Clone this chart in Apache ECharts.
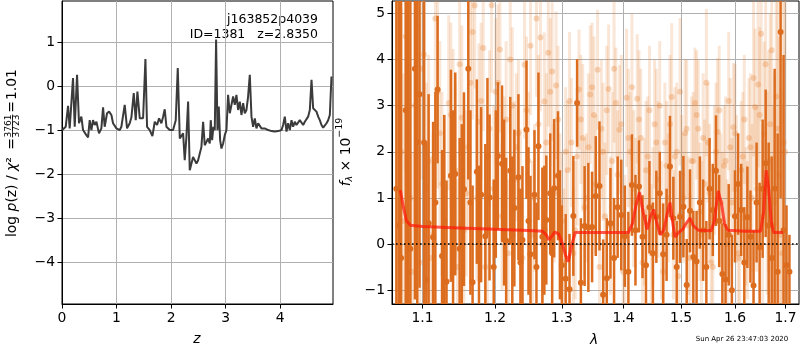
<!DOCTYPE html>
<html>
<head>
<meta charset="utf-8">
<script src="https://cdn.jsdelivr.net/npm/echarts@6/dist/echarts.min.js"></script>
<style>
  html, body { margin: 0; padding: 0; background: #fff; }
  #chart { width: 800px; height: 350px; }
</style>
</head>
<body>
<div id="chart"></div>
<script>
// ---- redshift probability: log p(z) over the fitted redshift grid ----
const zGrid = [0.0, 0.019, 0.068, 0.111, 0.141, 0.202, 0.233, 0.276, 0.312, 0.355, 0.386, 0.447, 0.478, 0.508, 0.539, 0.569, 0.600, 0.631, 0.679, 0.722,
  0.753, 0.783, 0.826, 0.863, 0.906, 0.936, 0.998, 1.059, 1.089, 1.150, 1.193, 1.242, 1.273, 1.316, 1.352, 1.383, 1.426, 1.456, 1.487, 1.530,
  1.560, 1.609, 1.658, 1.701, 1.744, 1.780, 1.823, 1.854, 1.884, 1.915, 1.976, 2.037, 2.086, 2.123, 2.160, 2.190, 2.221, 2.251, 2.282, 2.313,
  2.343, 2.404, 2.466, 2.496, 2.557, 2.588, 2.618, 2.649, 2.679, 2.710, 2.728, 2.753, 2.777, 2.802, 2.826, 2.851, 2.875, 2.900, 2.924, 2.955,
  2.985, 3.016, 3.046, 3.077, 3.108, 3.138, 3.169, 3.199, 3.230, 3.261, 3.291, 3.322, 3.352, 3.383, 3.413, 3.444, 3.475, 3.505, 3.536, 3.566,
  3.597, 3.658, 3.719, 3.780, 3.842, 3.903, 3.964, 4.025, 4.055, 4.086, 4.117, 4.147, 4.178, 4.209, 4.239, 4.270, 4.300, 4.331, 4.361, 4.392,
  4.423, 4.453, 4.484, 4.514, 4.545, 4.576, 4.606, 4.637, 4.667, 4.698, 4.728, 4.759, 4.790, 4.820, 4.851, 4.881, 4.912, 4.942];
const logPz = [-1.0, -0.995, -0.92, -0.446, -0.957, 0.187, -0.92, 0.263, -0.84, -0.69, -0.995, -1.11, -1.16, -0.77, -0.995, -0.77, -0.88, -0.805, -1.07, -0.957,
  -0.476, -0.92, -0.613, -0.576, -0.652, -0.84, -0.957, -0.995, -0.92, -0.423, -0.957, -0.84, -0.705, -0.156, -0.77, -0.118, -0.728, -0.77, -0.728, 0.622,
  -0.92, -0.995, -1.13, -0.805, -0.88, -0.728, -0.84, -0.69, -0.522, -0.92, -0.995, -0.995, -0.77, 0.416, -1.186, -1.224, -1.07, -1.68, -1.149, -0.347,
  -1.91, -1.606, -1.758, -1.68, -1.377, -0.805, -1.339, -1.263, -1.186, -1.30, -0.77, -1.224, -0.92, -0.995, 1.064, -0.995, -0.462, -1.224, -1.415, -1.30,
  -1.11, -0.995, -0.195, -0.613, -0.613, -0.233, -0.423, -0.195, -0.538, -0.347, -0.652, -0.385, -0.613, -0.538, -0.233, 0.263, -0.69, -0.92, -0.728, -0.957,
  -0.84, -0.957, -0.957, -0.995, -1.018, -1.03, -1.018, -0.995, -0.88, -0.69, -1.03, -0.84, -0.995, -0.77, -0.92, -0.805, -0.88, -0.92, -0.77, -0.728,
  -0.88, -0.805, -0.77, -0.69, -0.538, 0.149, -0.50, -0.538, -0.576, -0.69, -0.77, -0.88, -0.94, -0.92, -0.84, -0.77, -0.652, 0.224];

// ---- 1D spectrum, strong orange set ----
const darkWave = [1.066, 1.072, 1.078, 1.084, 1.090, 1.096, 1.102, 1.108, 1.114, 1.120, 1.126, 1.132, 1.138, 1.144, 1.150, 1.156, 1.162, 1.168, 1.174, 1.180,
  1.186, 1.192, 1.198, 1.204, 1.210, 1.216, 1.222, 1.228, 1.234, 1.240, 1.246, 1.252, 1.258, 1.264, 1.270, 1.276, 1.282, 1.288, 1.294, 1.300,
  1.306, 1.312, 1.318, 1.324, 1.330, 1.336, 1.342, 1.348, 1.354, 1.360, 1.366, 1.372, 1.378, 1.384, 1.390, 1.396, 1.402, 1.408, 1.414, 1.420,
  1.426, 1.432, 1.438, 1.444, 1.450, 1.456, 1.462, 1.468, 1.474, 1.480, 1.486, 1.492, 1.498, 1.504, 1.510, 1.516, 1.522, 1.528, 1.534, 1.540,
  1.546, 1.552, 1.558, 1.564, 1.570, 1.576, 1.582, 1.588, 1.594, 1.600, 1.606, 1.612, 1.618, 1.624, 1.630, 1.636, 1.642, 1.648, 1.654, 1.660,
  1.666, 1.672, 1.678, 1.684, 1.690, 1.696, 1.702, 1.708];
const darkFlux = [1.2, -0.3, 2.9, -0.1, 3.8, 3.25, 2.2, 0.45, 0.15, 3.35, -0.26, -0.82, 1.48, 1.52, -0.1, 1.19, 3.8, -0.83, 1.57, 1.07,
  0.17, 1.01, -0.5, 1.91, 1.74, 0.07, 1.59, 0.78, 1.45, 0.09, 2.48, -0.22, 1.07, 2.12, 0.16, 0.52, 1.1, 1.21, 1.48, -0.46,
  -0.75, -0.98, 0.61, 3.06, -0.84, 0.39, 0.36, 0.37, 1.04, 1.26, -1.1, -0.74, 0.45, -0.3, 0.8, 0.63, 0.17, -0.6, 1.28, 0.3,
  1.25, 0.16, -0.46, 0.8, -0.2, 0.59, 1.1, -0.22, 0.2, 1.68, 0.56, -0.5, 0.59, 0.81, -0.89, 0.72, -0.28, -0.38, 0.9, 0.3,
  -0.5, 1.2, 0.74, 1.59, 0.5, -0.65, -0.77, 0.2, -1.0, 0.6, 1.3, 0.74, -0.4, 0.58, 0.16, -0.9, 0.9, -0.07, 1.2, 1.75,
  0.4, -0.3, 1.2, -0.6, 4.6, 0.3, -0.46, -0.6];
const darkErr = [8.0, 7.5, 6.5, 6.0, 5.0, 4.2, 3.5, 2.8, 2.5, 1.6, 2.3, 2.2, 2.3, 2.2, 2.4, 2.1, 2.4, 2.1, 2.0, 1.9,
  2.0, 1.8, 1.9, 1.6, 1.7, 1.8, 1.6, 1.7, 1.8, 1.6, 1.5, 1.7, 1.4, 1.6, 1.5, 1.4, 1.3, 1.5, 1.4, 1.3,
  1.4, 1.2, 1.3, 0.95, 1.4, 1.3, 1.4, 1.2, 1.3, 1.4, 1.2, 1.3, 1.2, 1.3, 1.1, 1.2, 1.1, 1.3, 1.1, 1.2,
  1.0, 0.9, 1.1, 1.0, 1.1, 1.0, 0.9, 1.1, 1.0, 1.1, 0.9, 1.0, 1.0, 1.1, 1.0, 0.9, 1.0, 1.1, 1.0, 1.1,
  1.0, 1.1, 1.0, 1.2, 1.0, 1.1, 1.2, 1.1, 1.2, 1.0, 1.1, 1.0, 1.2, 1.1, 1.0, 1.2, 1.3, 1.4, 1.5, 1.6,
  1.8, 2.2, 2.6, 3.0, 3.6, 3.8, 1.3, 0.8];

// ---- strong orange set: extra samples on the blue side ----
const darkWaveBlue = [1.069, 1.081, 1.093, 1.105, 1.117, 1.129, 1.141, 1.153, 1.165, 1.177, 1.189, 1.201, 1.213, 1.225, 1.237, 1.249, 1.261, 1.273, 1.285, 1.297];
const darkFluxBlue = [0.4, -0.6, 2.21, -0.78, 0.9, 0.5, 0.7, 0.4, 0.9, -0.3, 1.9, 1.3, 0.9, 0.2, -0.4, 0.5, -0.5, 0.3, -0.2, 0.2];
const darkErrBlue = [7.8, 6.2, 4.6, 3.0, 2.4, 2.3, 2.2, 2.2, 2.0, 2.0, 1.7, 1.6, 1.8, 1.7, 1.6, 1.6, 1.4, 1.4, 1.4, 1.4];

// ---- 1D spectrum, faint orange set: even samples ----
const lightWave = [1.069, 1.075, 1.081, 1.087, 1.093, 1.099, 1.105, 1.111, 1.117, 1.123, 1.129, 1.135, 1.141, 1.147, 1.153, 1.159, 1.165, 1.171, 1.177, 1.183,
  1.189, 1.195, 1.201, 1.207, 1.213, 1.219, 1.225, 1.231, 1.237, 1.243, 1.249, 1.255, 1.261, 1.267, 1.273, 1.279, 1.285, 1.291, 1.297, 1.303,
  1.309, 1.315, 1.321, 1.327, 1.333, 1.339, 1.345, 1.351, 1.357, 1.363, 1.369, 1.375, 1.381, 1.387, 1.393, 1.399, 1.405, 1.411, 1.417, 1.423,
  1.429, 1.435, 1.441, 1.447, 1.453, 1.459, 1.465, 1.471, 1.477, 1.483, 1.489, 1.495, 1.501, 1.507, 1.513, 1.519, 1.525, 1.531, 1.537, 1.543,
  1.549, 1.555, 1.561, 1.567, 1.573, 1.579, 1.585, 1.591, 1.597, 1.603, 1.609, 1.615, 1.621, 1.627, 1.633, 1.639, 1.645, 1.651, 1.657, 1.663,
  1.669, 1.675, 1.681, 1.687, 1.693, 1.699];
const lightFlux = [4.1, 0.5, 2.4, -0.6, 4.74, 3.8, 1.2, -0.3, 4.89, 2.4, 0.7, 3.06, 2.23, -0.5, 2.74, 1.1, 3.5, 5.17, 2.65, 4.25,
  0.4, 5.18, 3.3, 4.22, 1.5, -0.2, 3.0, 2.1, 0.8, 3.89, 1.8, 0.2, 4.89, 4.48, 3.09, 4.15, 3.74, 3.44, 0.9, -0.4,
  1.6, 2.2, 0.3, 3.35, 2.3, 1.0, 3.24, 2.8, 3.78, 2.5, 0.6, 3.36, 1.8, 3.06, 2.48, -0.6, 3.17, 2.0, 1.2, 3.15,
  2.3, 0.7, 1.9, -0.2, 2.6, 1.4, 0.3, 2.2, 1.0, 3.19, 1.9, -0.7, 1.5, 2.4, 0.4, 1.8, 3.06, 2.5, 0.2, 1.3,
  2.2, -0.4, 1.6, 2.43, 0.9, 1.7, 0.0, 2.1, 2.53, 1.2, -0.3, 1.9, 0.6, 2.3, 1.0, 2.97, 3.46, 4.56, 2.39, 1.1,
  2.6, 0.4, 3.2, 1.5, -0.2, 2.0];
const lightErr = [3.0, 3.2, 2.8, 2.6, 2.5, 2.4, 2.3, 2.2, 2.2, 2.0, 2.1, 1.9, 2.0, 1.9, 2.0, 1.8, 1.9, 1.8, 1.7, 1.8,
  1.7, 1.9, 1.6, 1.8, 1.7, 1.6, 1.7, 1.6, 1.7, 1.6, 1.5, 1.6, 1.7, 1.6, 1.5, 1.6, 1.5, 1.6, 1.5, 1.6,
  1.5, 1.4, 1.5, 1.3, 1.6, 1.4, 1.5, 1.7, 1.3, 1.5, 1.6, 1.4, 1.5, 1.2, 1.4, 1.6, 1.5, 1.3, 1.7, 1.4,
  1.5, 1.6, 1.3, 1.5, 1.4, 1.7, 1.5, 1.3, 1.4, 1.6, 1.5, 1.4, 1.3, 1.6, 1.5, 1.4, 1.2, 1.5, 1.6, 1.4,
  1.3, 1.5, 1.4, 1.6, 1.5, 1.3, 1.4, 1.5, 1.4, 1.6, 1.5, 1.4, 1.5, 1.3, 1.6, 1.7, 1.8, 1.9, 2.0, 2.2,
  2.4, 2.6, 2.8, 3.0, 3.2, 3.4];

// ---- faint orange set: odd samples ----
const lightWaveOdd = [1.072, 1.078, 1.084, 1.090, 1.096, 1.102, 1.108, 1.114, 1.120, 1.126, 1.132, 1.138, 1.144, 1.150, 1.156, 1.162, 1.168, 1.174, 1.180, 1.186,
  1.192, 1.198, 1.204, 1.210, 1.216, 1.222, 1.228, 1.234, 1.240, 1.246, 1.252, 1.258, 1.264, 1.270, 1.276, 1.282, 1.288, 1.294, 1.300, 1.306,
  1.312, 1.318, 1.324, 1.330, 1.336, 1.342, 1.348, 1.354, 1.360, 1.366, 1.372, 1.378, 1.384, 1.390, 1.396, 1.402, 1.408, 1.414, 1.420, 1.426,
  1.432, 1.438, 1.444, 1.450, 1.456, 1.462, 1.468, 1.474, 1.480, 1.486, 1.492, 1.498, 1.504, 1.510, 1.516, 1.522, 1.528, 1.534, 1.540, 1.546,
  1.552, 1.558, 1.564, 1.570, 1.576, 1.582, 1.588, 1.594, 1.600, 1.606, 1.612, 1.618, 1.624, 1.630, 1.636, 1.642, 1.648, 1.654, 1.660, 1.666,
  1.672, 1.678, 1.684, 1.690, 1.696];
const lightFluxOdd = [2.0, 4.5, 1.0, 3.0, -0.4, 4.11, 1.8, 0.2, 3.3, 1.3, -0.8, 2.8, 1.6, 3.9, 0.3, 2.1, 4.6, 1.0, 3.1, -0.5,
  2.5, 1.2, 3.5, 0.6, 2.7, 4.0, 1.4, 2.4, -0.3, 2.9, 4.3, 1.0, 2.6, 0.0, 2.2, 3.3, 1.1, 2.7, 0.5, 2.0,
  3.1, -0.2, 1.9, 2.7, 0.8, 2.1, 3.4, 1.3, -0.5, 2.0, 2.9, 0.4, 3.8, 1.5, 2.6, 0.1, 2.3, 3.4, 0.9, 2.7,
  -0.4, 1.6, 2.9, 0.6, 2.2, 3.0, -0.6, 1.7, 2.6, 0.2, 2.0, 3.3, 1.0, 2.5, -0.3, 1.8, 2.8, 0.7, 2.3, 3.5,
  1.1, -0.5, 2.0, 2.9, 0.5, 1.8, 3.1, 0.9, 2.4, -0.2, 1.6, 2.7, 0.3, 2.1, 3.6, 1.2, 2.8, 0.6, 3.9, 1.8,
  4.2, 0.9, 2.5, 0.2, 2.2];
const lightErrOdd = [3.1, 2.9, 2.7, 2.6, 2.5, 2.3, 2.3, 2.2, 2.1, 2.0, 2.1, 2.0, 1.9, 2.0, 1.9, 1.8, 1.9, 1.8, 1.7, 1.8,
  1.7, 1.8, 1.7, 1.6, 1.7, 1.6, 1.7, 1.6, 1.5, 1.6, 1.5, 1.6, 1.5, 1.6, 1.5, 1.6, 1.5, 1.6, 1.5, 1.4,
  1.5, 1.4, 1.5, 1.4, 1.5, 1.6, 1.4, 1.5, 1.4, 1.5, 1.4, 1.5, 1.6, 1.4, 1.5, 1.4, 1.5, 1.6, 1.4, 1.5,
  1.4, 1.5, 1.4, 1.5, 1.6, 1.4, 1.5, 1.4, 1.5, 1.4, 1.5, 1.6, 1.4, 1.5, 1.4, 1.5, 1.4, 1.5, 1.4, 1.6,
  1.5, 1.4, 1.5, 1.4, 1.5, 1.4, 1.5, 1.4, 1.5, 1.4, 1.5, 1.4, 1.5, 1.6, 1.7, 1.8, 1.9, 2.0, 2.2, 2.4,
  2.6, 2.8, 3.0, 3.2, 3.4];

// ---- best-fit model at z = 2.835 ----
const modelWave = [1.071, 1.075, 1.079, 1.084, 1.100, 1.150, 1.200, 1.258, 1.270, 1.276, 1.280, 1.284, 1.289, 1.295, 1.301, 1.306, 1.310, 1.315, 1.321, 1.350,
  1.408, 1.415, 1.421, 1.427, 1.433, 1.440, 1.446, 1.451, 1.457, 1.463, 1.469, 1.475, 1.480, 1.485, 1.489, 1.495, 1.503, 1.509, 1.516, 1.522,
  1.531, 1.555, 1.561, 1.568, 1.574, 1.580, 1.586, 1.620, 1.650, 1.656, 1.661, 1.666, 1.671, 1.676, 1.695];
const modelFlux = [1.17, 0.8, 0.5, 0.41, 0.38, 0.35, 0.32, 0.29, 0.28, 0.2, 0.09, 0.16, 0.26, 0.22, 0.0, -0.25, -0.38, -0.05, 0.25, 0.25,
  0.25, 0.45, 0.85, 1.12, 0.7, 0.32, 0.6, 0.75, 0.45, 0.2, 0.3, 0.65, 0.9, 0.45, 0.15, 0.25, 0.32, 0.45, 0.56, 0.4,
  0.3, 0.29, 0.5, 1.15, 0.9, 0.45, 0.3, 0.28, 0.28, 0.7, 1.6, 1.2, 0.5, 0.25, 0.25];

// ---- tick positions ----
const zTicks = [0, 1, 2, 3, 4];
const pzTicks = [-4, -3, -2, -1, 0, 1];
const waveTicks = [1.1, 1.2, 1.3, 1.4, 1.5, 1.6, 1.7];
const fluxTicks = [-1, 0, 1, 2, 3, 4, 5];

const FONT = '"DejaVu Sans", sans-serif';
const minusFmt = v => String(v).replace('-', '\u2212');

function zip3(a, b, c) {
  const n = Math.min(a.length, b.length, c.length);
  const out = [];
  for (let i = 0; i < n; i++) out.push([a[i], b[i], c[i]]);
  return out;
}
function zip2(a, b) {
  const n = Math.min(a.length, b.length);
  const out = [];
  for (let i = 0; i < n; i++) out.push([a[i], b[i]]);
  return out;
}
const byWave = (p, q) => p[0] - q[0];

// vertical error bar with a round marker, clipped to the plot area
function errorBar(barColor, dotColor, barWidth, dotR) {
  return function (params, api) {
    const x = api.value(0), y = api.value(1), e = api.value(2);
    const cs = params.coordSys;
    const c = api.coord([x, y]);
    const hi = api.coord([x, y + e]);
    const lo = api.coord([x, y - e]);
    const top = Math.max(hi[1], cs.y);
    const bot = Math.min(lo[1], cs.y + cs.height);
    const children = [];
    if (bot > top) {
      children.push({ type: 'line', shape: { x1: c[0], y1: top, x2: c[0], y2: bot },
        style: { stroke: barColor, lineWidth: barWidth } });
    }
    if (c[1] >= cs.y && c[1] <= cs.y + cs.height) {
      children.push({ type: 'circle', shape: { cx: c[0], cy: c[1], r: dotR },
        style: { fill: dotColor } });
    }
    return { type: 'group', children: children };
  };
}

function axisCommon(ticks, fmt) {
  return {
    axisLine: { show: true, onZero: false, lineStyle: { color: '#000', width: 1 } },
    axisTick: { show: true, inside: false, length: 4.5, customValues: ticks, lineStyle: { color: '#000', width: 1 } },
    axisLabel: { customValues: ticks, formatter: fmt, margin: 7, fontSize: 13.9, color: '#000', fontFamily: FONT },
    splitLine: { show: true, lineStyle: { color: '#b0b0b0', width: 1 } }
  };
}

const lightData = zip3(lightWave, lightFlux, lightErr).concat(zip3(lightWaveOdd, lightFluxOdd, lightErrOdd)).sort(byWave);
const darkData = zip3(darkWave, darkFlux, darkErr).concat(zip3(darkWaveBlue, darkFluxBlue, darkErrBlue)).sort(byWave);

const chart = echarts.init(document.getElementById('chart'), null, { renderer: 'canvas' });

const option = {
  animation: false,
  backgroundColor: '#fff',
  textStyle: { fontFamily: FONT },
  grid: [
    { left: 62, top: 1, width: 271, height: 303, show: true, borderColor: '#000', borderWidth: 1, containLabel: false },
    { left: 392, top: 1, width: 407, height: 303, show: true, borderColor: '#000', borderWidth: 1, containLabel: false }
  ],
  xAxis: [
    Object.assign({ gridIndex: 0, type: 'value', min: 0, max: 4.97 }, axisCommon(zTicks, minusFmt)),
    Object.assign({ gridIndex: 1, type: 'log', logBase: 10, min: 1.0604, max: 1.7277 }, axisCommon(waveTicks, v => Number(v).toFixed(1)))
  ],
  yAxis: [
    Object.assign({ gridIndex: 0, type: 'value', min: -4.95, max: 1.94 }, axisCommon(pzTicks, minusFmt)),
    Object.assign({ gridIndex: 1, type: 'value', min: -1.3, max: 5.27 }, axisCommon(fluxTicks, minusFmt))
  ],
  series: [
    {
      name: 'log p(z)', type: 'line', xAxisIndex: 0, yAxisIndex: 0,
      data: zip2(zGrid, logPz), showSymbol: false, symbol: 'none',
      lineStyle: { color: '#3b3b3b', width: 2 }, clip: true, z: 3
    },
    {
      name: 'spectrum B', type: 'custom', xAxisIndex: 1, yAxisIndex: 1,
      data: lightData,
      encode: { x: 0, y: 1 },
      renderItem: errorBar('rgba(232,128,50,0.2)', 'rgba(232,128,50,0.3)', 3, 3),
      z: 2
    },
    {
      name: 'spectrum A', type: 'custom', xAxisIndex: 1, yAxisIndex: 1,
      data: darkData,
      encode: { x: 0, y: 1 },
      renderItem: errorBar('#dc6c1e', '#dc6c1e', 2.5, 3),
      z: 3
    },
    {
      name: 'model', type: 'line', xAxisIndex: 1, yAxisIndex: 1,
      data: zip2(modelWave, modelFlux), showSymbol: false, symbol: 'none',
      lineStyle: { color: 'rgba(255,25,10,0.72)', width: 3 }, clip: true, z: 4,
      markLine: {
        silent: true, symbol: 'none', animation: false,
        label: { show: false },
        lineStyle: { color: '#000', type: [1.6, 2.4], width: 1.7 },
        data: [{ yAxis: 0 }]
      }
    }
  ],
  graphic: [
    { type: 'text', x: 318, y: 20, style: { text: 'j163852p4039', font: '12.5px ' + FONT, fill: '#000', align: 'right', verticalAlign: 'middle' } },
    { type: 'text', x: 318, y: 35, style: { text: 'ID=1381   z=2.8350', font: '12.5px ' + FONT, fill: '#000', align: 'right', verticalAlign: 'middle' } },

    { type: 'text', x: 197, y: 339, style: { text: 'z', font: 'italic 13.9px ' + FONT, fill: '#000', align: 'center', verticalAlign: 'middle' } },
    { type: 'text', x: 594, y: 340, style: { text: 'λ', font: 'italic 13.9px ' + FONT, fill: '#000', align: 'center', verticalAlign: 'middle' } },
    { type: 'text', x: 742, y: 339, style: { text: 'Sun Apr 26 23:47:03 2020', font: '7px ' + FONT, fill: '#000', align: 'center', verticalAlign: 'middle' } },

    // left axis title: log p(z) / chi^2 = 3761/3723 = 1.01
    { type: 'text', x: 12, y: 237, rotation: Math.PI / 2,
      style: { text: 'log {i|p}(z) / {i|χ}²', font: '13.9px ' + FONT, fill: '#000', align: 'left', verticalAlign: 'middle',
        rich: { i: { fontStyle: 'italic', fontSize: 13.9, fontFamily: FONT } } } },
    { type: 'text', x: 12, y: 144, rotation: Math.PI / 2,
      style: { text: '=', font: '13.9px ' + FONT, fill: '#000', align: 'center', verticalAlign: 'middle' } },
    { type: 'text', x: 8.5, y: 126, rotation: Math.PI / 2,
      style: { text: '3761', font: '9px ' + FONT, fill: '#000', align: 'center', verticalAlign: 'middle' } },
    { type: 'text', x: 16.5, y: 126, rotation: Math.PI / 2,
      style: { text: '3723', font: '9px ' + FONT, fill: '#000', align: 'center', verticalAlign: 'middle' } },
    { type: 'line', shape: { x1: 12.5, y1: 114.5, x2: 12.5, y2: 137.5 }, style: { stroke: '#000', lineWidth: 0.8 } },
    { type: 'text', x: 12, y: 107, rotation: Math.PI / 2,
      style: { text: '=', font: '13.9px ' + FONT, fill: '#000', align: 'center', verticalAlign: 'middle' } },
    { type: 'text', x: 12, y: 100, rotation: Math.PI / 2,
      style: { text: '1.01', font: '13.9px ' + FONT, fill: '#000', align: 'left', verticalAlign: 'middle' } },

    // right axis title: f_lambda x 10^-19
    { type: 'text', x: 346, y: 152, rotation: Math.PI / 2,
      style: { text: '{i|f}{sub|λ}{n| × 10}{sup|−19}', fill: '#000', align: 'center', verticalAlign: 'middle',
        rich: {
          i: { fontStyle: 'italic', fontSize: 13.9, fontFamily: FONT, lineHeight: 22 },
          n: { fontSize: 13.9, fontFamily: FONT, lineHeight: 22 },
          sub: { fontStyle: 'italic', fontSize: 9.5, fontFamily: FONT, verticalAlign: 'bottom', lineHeight: 22, padding: [0, 0, 2, 0] },
          sup: { fontSize: 9.5, fontFamily: FONT, verticalAlign: 'top', lineHeight: 22 }
        } } }
  ]
};

chart.setOption(option);
</script>
</body>
</html>
